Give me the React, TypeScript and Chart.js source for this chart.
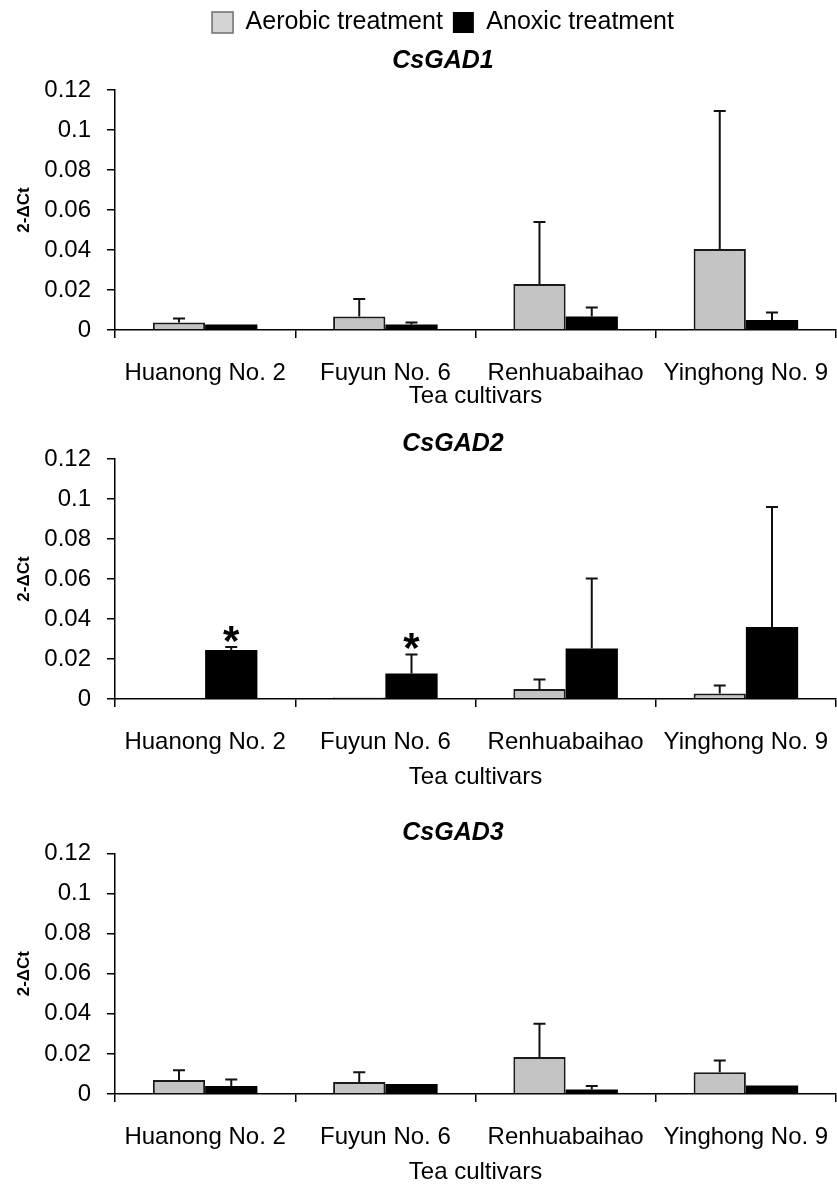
import React, { useEffect, useRef } from "react";
import { Chart, registerables } from "chart.js";

Chart.register(...registerables);

// ---------- data ----------
const categories = ["Huanong No. 2", "Fuyun No. 6", "Renhuabaihao", "Yinghong No. 9"];
const seriesNames = ["Aerobic treatment", "Anoxic treatment"];
const yTickLabels = ["0", "0.02", "0.04", "0.06", "0.08", "0.1", "0.12"];
const panelTitles = ["CsGAD1", "CsGAD2", "CsGAD3"];
const xAxisTitle = "Tea cultivars";
const yAxisTitle = "2-ΔCt";

const gad1Aerobic = [0.0037, 0.0067, 0.023, 0.0405];
const gad1AerobicErr = [0.002, 0.0088, 0.031, 0.069];
const gad1Anoxic = [0.0028, 0.0028, 0.0067, 0.005];
const gad1AnoxicErr = [0, 0.001, 0.0046, 0.0037];
const gad1AnoxicMarks = ["", "", "", ""];

const gad2Aerobic = [0, 0.0008, 0.005, 0.0028];
const gad2AerobicErr = [0, 0, 0.0048, 0.0039];
const gad2Anoxic = [0.0245, 0.0128, 0.0253, 0.036];
const gad2AnoxicErr = [0.0015, 0.0095, 0.035, 0.06];
const gad2AnoxicMarks = ["*", "*", "", ""];

const gad3Aerobic = [0.007, 0.006, 0.0185, 0.0108];
const gad3AerobicErr = [0.0048, 0.0048, 0.0165, 0.0059];
const gad3Anoxic = [0.004, 0.005, 0.0022, 0.0042];
const gad3AnoxicErr = [0.0032, 0, 0.0018, 0];
const gad3AnoxicMarks = ["", "", "", ""];

// ---------- layout ----------
const FONT = '"Liberation Sans", Arial, Helvetica, sans-serif';
const AXIS_LEFT = 115;
const AXIS_RIGHT = 836;

type PanelDef = {
  title: string;
  aerobic: number[];
  aerobicErr: number[];
  anoxic: number[];
  anoxicErr: number[];
  marks: string[];
  top: number;
  width: number;
  height: number;
  areaBottom: number;
  showLegend: boolean;
  titlePadTop: number;
  titlePadBottom: number;
  xTitlePadBottom: number;
};

const panels: PanelDef[] = [
  {
    title: panelTitles[0],
    aerobic: gad1Aerobic,
    aerobicErr: gad1AerobicErr,
    anoxic: gad1Anoxic,
    anoxicErr: gad1AnoxicErr,
    marks: gad1AnoxicMarks,
    top: 0,
    width: 886,
    height: 411,
    areaBottom: 330,
    showLegend: true,
    titlePadTop: 1.5,
    titlePadBottom: 13.5,
    xTitlePadBottom: 0,
  },
  {
    title: panelTitles[1],
    aerobic: gad2Aerobic,
    aerobicErr: gad2AerobicErr,
    anoxic: gad2Anoxic,
    anoxicErr: gad2AnoxicErr,
    marks: gad2AnoxicMarks,
    top: 410,
    width: 906,
    height: 390,
    areaBottom: 289,
    showLegend: false,
    titlePadTop: 19,
    titlePadBottom: 0,
    xTitlePadBottom: 8,
  },
  {
    title: panelTitles[2],
    aerobic: gad3Aerobic,
    aerobicErr: gad3AerobicErr,
    anoxic: gad3Anoxic,
    anoxicErr: gad3AnoxicErr,
    marks: gad3AnoxicMarks,
    top: 800,
    width: 906,
    height: 387,
    areaBottom: 294,
    showLegend: false,
    titlePadTop: 18.5,
    titlePadBottom: 4.8,
    xTitlePadBottom: 0,
  },
];

function PanelChart({ p }: { p: PanelDef }) {
  const ref = useRef<HTMLCanvasElement | null>(null);

  useEffect(() => {
    const canvas = ref.current;
    if (!canvas) return;
    const errs = [p.aerobicErr, p.anoxicErr];
    const marks: (string[] | null)[] = [null, p.marks];

    const errorPlugin = {
      id: "errorBars",
      afterDatasetsDraw(chart: any) {
        const ctx = chart.ctx;
        const yScale = chart.scales.y;
        ctx.save();
        chart.data.datasets.forEach((ds: any, di: number) => {
          const meta = chart.getDatasetMeta(di);
          meta.data.forEach((bar: any, i: number) => {
            const v = ds.data[i] as number;
            const e = errs[di][i];
            let topPx = bar.y;
            if (e > 0) {
              const yTop = yScale.getPixelForValue(v + e);
              ctx.strokeStyle = "#111";
              ctx.lineWidth = 2;
              ctx.beginPath();
              ctx.moveTo(bar.x, bar.y);
              ctx.lineTo(bar.x, yTop);
              ctx.moveTo(bar.x - 6, yTop);
              ctx.lineTo(bar.x + 6, yTop);
              ctx.stroke();
              topPx = yTop;
            }
            const m = marks[di] ? marks[di]![i] : "";
            if (m) {
              ctx.fillStyle = "#000";
              ctx.font = `bold 42px ${FONT}`;
              ctx.textAlign = "center";
              ctx.textBaseline = "alphabetic";
              ctx.fillText(m, bar.x, topPx + 8);
            }
          });
        });
        ctx.restore();
      },
    };

    const chart = new Chart(canvas, {
      type: "bar",
      data: {
        labels: categories,
        datasets: [
          {
            label: seriesNames[0],
            data: p.aerobic,
            backgroundColor: "#c4c4c4",
            borderColor: "#1a1a1a",
            borderWidth: 2,
            categoryPercentage: 0.58,
            barPercentage: 1,
          },
          {
            label: seriesNames[1],
            data: p.anoxic,
            backgroundColor: "#000000",
            borderColor: "#000000",
            borderWidth: 0,
            categoryPercentage: 0.58,
            barPercentage: 1,
          },
        ],
      },
      options: {
        responsive: false,
        animation: false,
        devicePixelRatio: 1,
        layout: { padding: 0 },
        plugins: {
          legend: {
            display: p.showLegend,
            position: "top",
            weight: 3000,
            labels: {
              font: { size: 25, family: FONT },
              color: "#000",
              boxWidth: 21,
              boxHeight: 21,
              padding: 10,
              generateLabels: (c: any) =>
                (Chart.defaults.plugins.legend.labels as any)
                  .generateLabels(c)
                  .map((l: any, i: number) =>
                    i === 0
                      ? { ...l, fillStyle: "#d4d4d4", strokeStyle: "#6e6e6e", lineWidth: 1.5 }
                      : { ...l, fillStyle: "#000", strokeStyle: "#000", lineWidth: 0 }
                  ),
            },
          },
          title: {
            display: true,
            text: p.title,
            color: "#000",
            weight: 2000,
            font: { size: 25, weight: "bold", style: "italic", family: FONT },
            padding: { top: p.titlePadTop, bottom: p.titlePadBottom },
          },
          tooltip: { enabled: false },
        },
        scales: {
          x: {
            grid: {
              display: true,
              drawOnChartArea: false,
              drawTicks: true,
              tickLength: 8,
              color: "#000",
              lineWidth: 1.5,
              offset: true,
            },
            border: { display: true, color: "#000", width: 1.5 },
            ticks: {
              font: { size: 24, family: FONT },
              color: "#000",
              padding: 21,
              maxRotation: 0,
              minRotation: 0,
              autoSkip: false,
            },
            title: {
              display: true,
              text: xAxisTitle,
              color: "#000",
              font: { size: 24, family: FONT },
              padding: { top: 0, bottom: p.xTitlePadBottom },
            },
            afterFit: (s: any) => {
              s.height = p.height - p.areaBottom;
            },
          },
          y: {
            min: 0,
            max: 0.12,
            ticks: {
              stepSize: 0.02,
              callback: (v: any, i: number) => yTickLabels[i] ?? String(v),
              font: { size: 24, family: FONT },
              color: "#000",
              padding: 16,
            },
            grid: {
              drawOnChartArea: false,
              drawTicks: true,
              tickLength: 8,
              color: "#000",
              lineWidth: 1.5,
            },
            border: { display: true, color: "#000", width: 1.5 },
            title: {
              display: true,
              text: yAxisTitle,
              color: "#000",
              font: { size: 17, weight: "bold", family: FONT },
              padding: { top: 14, bottom: 0 },
            },
            afterFit: (s: any) => {
              s.width = AXIS_LEFT;
            },
          },
          pad: {
            type: "linear",
            position: "right",
            display: true,
            grid: { display: false },
            border: { display: false },
            ticks: { display: false },
            afterFit: (s: any) => {
              s.width = p.width - AXIS_RIGHT;
            },
          },
        },
      } as any,
      plugins: [errorPlugin],
    });

    return () => chart.destroy();
  }, [p]);

  return (
    <canvas
      ref={ref}
      width={p.width}
      height={p.height}
      style={{
        position: "absolute",
        left: 0,
        top: p.top,
        width: p.width,
        height: p.height,
        display: "block",
      }}
    />
  );
}

export default function App() {
  return (
    <div
      style={{
        position: "absolute",
        left: 0,
        top: 0,
        width: 837,
        height: 1187,
        overflow: "hidden",
        background: "#fff",
      }}
    >
      {panels.map((p, i) => (
        <PanelChart key={i} p={p} />
      ))}
    </div>
  );
}
